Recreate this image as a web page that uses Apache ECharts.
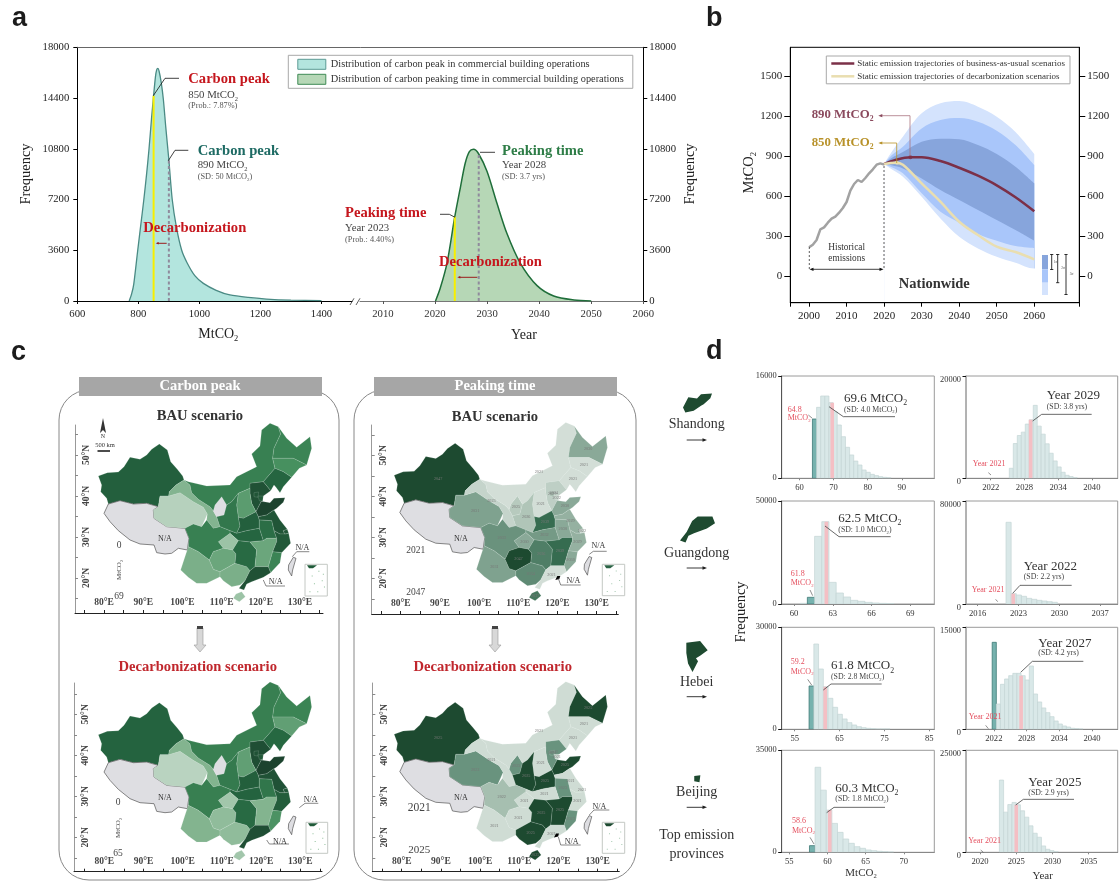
<!DOCTYPE html>
<html><head><meta charset="utf-8">
<style>html,body{margin:0;padding:0;background:#fff}#c{width:1120px;height:882px}</style>
<script src="https://cdn.jsdelivr.net/npm/echarts@6/dist/echarts.min.js"></script>
</head><body><div id="c"></div>
<script>
// ---------- DATA ----------
const curveCarbonPeak=[[770,0],[778,500],[785,1200],[798,3600],[808,5400],[818,7200],[827,9000],[835,10800],[843,12900],[850,14570],[856,15900],[860,16400],[864,16500],[868,16300],[875,15500],[882,14300],[890,12300],[900,10000],[911,7200],[925,5200],[942,3600],[960,2700],[985,1800],[1013,1250],[1055,760],[1100,430],[1160,250],[1220,140],[1300,60],[1400,20]];
const curvePeakTime=[[2020.1,0],[2021,900],[2022.3,2670],[2023.8,5980],[2024.9,8100],[2025.8,9770],[2026.6,10600],[2027.4,10760],[2028.4,10430],[2030,9180],[2031.9,6930],[2033.8,4800],[2036.4,2670],[2039.6,1090],[2042.8,355],[2046.7,70],[2050,0]];
const decarbPeak=[[850,0],[850,14570]], bauPeak=[[900,0],[900,10000]];
const decarbYear=[[2023.8,0],[2023.8,5980]], bauYear=[[2028.4,0],[2028.4,10430]];
const yTicksA=[0,3600,7200,10800,14400,18000];
const xTicksPeak=[600,800,1000,1200,1400], xTicksYear=[2010,2020,2030,2040,2050,2060];

const histYears=[2000,2001,2002,2003,2004,2005,2006,2007,2008,2009,2010,2011,2012,2013,2014,2015,2016,2017,2018,2019,2020];
const histEmis=[215,235,270,350,365,400,430,445,475,510,555,640,690,720,705,735,770,800,835,845,835];
const bandYears=[2020,2022,2025,2030,2035,2040,2045,2050,2055,2060];
const upper3=[840,930,1045,1220,1295,1312,1270,1195,1080,915];
const upper2=[840,905,970,1107,1170,1185,1157,1090,982,832];
const upper1=[840,885,930,1007,1030,1025,982,915,820,695];
const lower1=[840,830,807,732,645,570,495,420,345,265];
const lower2=[840,815,770,620,482,400,315,265,225,210];
const lower3=[840,800,745,595,432,295,207,145,100,57];
const bauLineY=[2020,2023,2027,2030,2035,2040,2045,2050,2055,2060];
const bauLineV=[840,870,890,890,862,812,752,680,590,485];
const decLineY=[2020,2023,2025,2030,2035,2040,2045,2050,2055,2060];
const decLineV=[840,850,835,695,557,407,307,220,180,125];
const yTicksB=[0,300,600,900,1200,1500], xTicksB=[2000,2010,2020,2030,2040,2050,2060];

const provinces=['Xinjiang','Tibet','Qinghai','Gansu','Ningxia','InnerMongolia','Heilongjiang','Jilin','Liaoning','Hebei','Beijing','Tianjin','Shanxi','Shaanxi','Shandong','Henan','Jiangsu','Anhui','Hubei','Chongqing','Sichuan','Yunnan','Guizhou','Guangxi','Hunan','Jiangxi','Zhejiang','Shanghai','Fujian','Guangdong','Hainan','Taiwan'];
const peakBAU=[55,NaN,6,18,NaN,40,38,33,52,62,60,58,28,44,69,55,60,48,52,12,40,20,24,20,50,24,58,60,38,62,12,NaN];
const peakDecarb=[50,NaN,5,17,NaN,38,36,25,48,60,58,55,25,40,65,52,58,42,50,10,38,17,14,14,47,17,53,56,30,60,10,NaN];
const yearBAU=[2047,NaN,2031,2023,2025,2021,2030,2021,2021,2024,2027,2022,2021,2026,2030,2039,2029,2030,2032,2030,2033,2031,2047,2034,2036,2039,2029,2022,2030,2021,2037,NaN];
const yearDecarb=[2025,NaN,2023,2021,2023,2021,2025,2021,2021,2023,2023,2021,2021,2025,2025,2025,2021,2023,2021,2021,2022,2021,2021,2025,2025,2025,2021,2021,2023,2021,2025,NaN];

// histograms: first-bin start, bin width, frequencies
const sdPeakStart=63.8, sdPeakWidth=1.21, sdPeakFreq=[9270,11100,12870,12870,11830,10420,8340,6510,4850,3650,2700,2080,1300,940,620,420,260,150,100];
const sdYearStart=2025.31, sdYearWidth=0.71, sdYearFreq=[1960,6800,8370,9025,10600,11450,14260,10200,8630,6740,4900,3400,2220,1180,590,330,130];
const gdPeakStart=60.47, gdPeakWidth=0.558, gdPeakFreq=[320,3240,32850,39960,10500,5340,3400,1780,1300,800,480,300,200];
const gdYearStart=2020.86, gdYearWidth=0.88, gdYearFreq=[63450,8030,7000,5960,4400,3630,2850,2330,1810,1300];
const hbPeakStart=58.2, hbPeakWidth=1.06, hbPeakFreq=[12740,25090,17740,12540,9110,6470,4410,3040,1960,1270,780,490,290,200,100,100,100];
const hbYearStart=2021.7, hbYearWidth=0.756, hbYearFreq=[12790,3720,6615,7400,7890,8230,8230,7890,7250,9310,5190,4020,3140,2450,1860,1225,780,490,340,150,100,50];
const bjPeakStart=57.64, bjPeakWidth=0.735, bjPeakFreq=[2280,29180,21320,14480,9920,6840,4560,3080,1940,1370,800,570,340,230,110];
const bjYearStart=2022.67, bjYearWidth=0.58, bjYearFreq=[17700,9840,11700,12220,11640,10170,8610,6480,4670,3690,1560,740,410,160];

// rough province outlines (map geometry)
const outlines={
Xinjiang:[[145,318],[172,308],[205,306],[222,290],[240,262],[270,268],[290,255],[305,238],[328,222],[352,240],[362,275],[382,298],[398,318],[402,330],[378,345],[358,365],[356,378],[330,378],[325,410],[290,400],[250,402],[210,392],[175,402],[170,385],[152,365],[155,345]],
Tibet:[[175,402],[210,392],[250,402],[290,400],[325,410],[310,420],[312,445],[350,470],[405,475],[417,505],[412,540],[385,535],[365,550],[345,552],[320,548],[312,525],[270,522],[240,510],[205,482],[180,455],[162,430]],
Qinghai:[[325,410],[330,378],[356,378],[390,368],[430,395],[460,412],[472,432],[455,470],[430,462],[405,475],[350,470],[312,445],[310,420]],
Gansu:[[358,365],[378,345],[402,330],[420,345],[425,368],[445,388],[480,410],[490,422],[500,440],[510,470],[490,475],[470,450],[472,432],[460,412],[430,395],[390,368],[356,378]],
Ningxia:[[490,422],[495,405],[515,380],[530,405],[522,435],[500,440]],
InnerMongolia:[[402,330],[415,335],[470,348],[540,345],[560,320],[590,305],[620,290],[605,252],[630,228],[635,180],[660,160],[685,170],[692,192],[672,235],[668,265],[675,295],[640,335],[600,340],[600,355],[565,370],[545,395],[530,405],[515,380],[495,405],[490,422],[480,410],[445,388],[425,368],[420,345]],
Heilongjiang:[[685,170],[710,205],[740,232],[780,200],[785,235],[770,285],[730,265],[668,265],[672,235],[692,192]],
Jilin:[[668,265],[730,265],[770,285],[748,295],[725,322],[700,305],[675,295]],
Liaoning:[[640,335],[675,295],[700,305],[725,322],[700,350],[690,368],[678,352],[672,345],[662,362]],
Hebei:[[600,340],[640,335],[662,362],[640,378],[628,385],[634,394],[618,425],[605,400],[600,370],[600,355]],
Beijing:[[612,368],[626,366],[624,382],[612,380]],
Tianjin:[[624,378],[640,378],[638,394],[628,392]],
Shanxi:[[565,370],[600,355],[600,370],[605,400],[618,425],[580,445],[565,442],[560,405]],
Shaanxi:[[545,395],[565,370],[560,405],[565,442],[570,468],[560,490],[540,482],[510,470],[500,440],[522,435],[530,405]],
Shandong:[[618,425],[634,394],[660,398],[672,385],[705,383],[700,397],[680,415],[672,420],[650,435],[625,440]],
Henan:[[565,442],[580,445],[618,425],[625,440],[628,450],[628,475],[590,482],[560,490],[570,468]],
Jiangsu:[[625,440],[650,435],[672,420],[690,450],[712,478],[700,482],[704,492],[690,492],[672,482],[665,452],[628,450]],
Anhui:[[628,450],[665,452],[672,482],[680,505],[650,505],[640,512],[628,475]],
Hubei:[[540,482],[560,490],[590,482],[628,475],[640,512],[600,516],[565,512],[540,490]],
Chongqing:[[505,515],[540,490],[565,512],[548,540],[520,535]],
Sichuan:[[405,475],[430,462],[455,470],[470,450],[490,475],[510,470],[540,482],[540,490],[505,515],[520,535],[490,545],[478,570],[445,545],[415,530],[417,505]],
Yunnan:[[415,530],[445,545],[478,570],[490,598],[510,605],[510,620],[470,640],[440,640],[415,622],[392,600],[405,560]],
Guizhou:[[490,545],[520,535],[548,540],[558,552],[555,580],[510,605],[490,598],[478,570]],
Guangxi:[[510,605],[555,580],[590,590],[600,602],[585,632],[570,645],[545,650],[520,632],[510,620]],
Hunan:[[548,540],[565,512],[600,516],[620,540],[615,590],[600,602],[590,590],[555,580],[558,552]],
Jiangxi:[[600,516],[640,512],[650,505],[680,505],[680,515],[668,545],[655,590],[615,590],[620,540]],
Zhejiang:[[672,482],[690,492],[704,492],[716,490],[722,520],[695,548],[668,545],[680,515],[680,505]],
Shanghai:[[700,482],[712,478],[716,490],[704,492]],
Fujian:[[668,545],[695,548],[690,578],[662,608],[655,590]],
Guangdong:[[600,602],[615,590],[655,590],[662,608],[640,622],[605,635],[590,642],[582,660],[567,655],[585,632]],
Hainan:[[558,672],[575,665],[586,680],[568,695],[550,685]],
Taiwan:[[730,562],[738,565],[728,600],[725,618],[715,600],[716,585]]
};
const hebeiHole=[[610,360],[628,358],[632,372],[620,384],[610,378]];
const flip=r=>r.map(p=>[p[0],-p[1]]);
function geo(names,holes){return {type:'FeatureCollection',features:names.map(n=>({type:'Feature',properties:Object.assign({name:n},n==='Tibet'?{cp:[345,-508]}:{}),geometry:{type:'Polygon',coordinates:[flip(outlines[n])].concat(holes?[flip(holes)]:[])}}))};}
['A','B','C','D'].forEach(k=>echarts.registerMap('provs'+k,geo(provinces)));
['Shandong','Guangdong','Beijing'].forEach(n=>echarts.registerMap('one'+n,geo([n])));
echarts.registerMap('oneHebei',geo(['Hebei'],hebeiHole));

// ---------- HELPERS ----------
const SERIF='"Liberation Serif","Times New Roman",serif';
const plain=v=>String(v);
const grids=[],xAxes=[],yAxes=[],series=[],gfx=[],visualMaps=[];
function txt(x,y,s,o={}){
  const size=o.size||11,color=o.color||'#222',w=o.bold?'bold':'normal';
  const style={fill:color,fontSize:size,fontWeight:w,fontFamily:o.family||SERIF,align:o.align||'left',verticalAlign:'middle',textAlign:o.align||'left',textVerticalAlign:'middle'};
  if(s.indexOf('_')>=0){
    const [a,b]=s.split('_');const sub=b[0],rest=b.slice(1);
    style.text='{m|'+a+'}{s|'+sub+'}'+(rest?'{m|'+rest+'}':'');
    const lh=Math.round(size*1.3);
    style.rich={m:{fontSize:size,fontWeight:w,fill:color,fontFamily:SERIF,lineHeight:lh},s:{fontSize:size*0.6,fontWeight:w,fill:color,fontFamily:SERIF,lineHeight:lh,verticalAlign:'bottom'}};
  } else style.text=s;
  gfx.push({type:'text',x,y,rotation:o.rot||0,silent:true,z:50,style});
}
function line(pts,color,o={}){gfx.push({type:'polyline',silent:true,z:o.z||45,shape:{points:pts},style:{stroke:color,lineWidth:o.w||0.8,fill:null,lineDash:o.dash||null}});}
function head(x,y,dx,dy,color,s){s=s||4;const nx=-dy,ny=dx;gfx.push({type:'polygon',silent:true,z:46,shape:{points:[[x,y],[x-dx*s+nx*s*0.4,y-dy*s+ny*s*0.4],[x-dx*s-nx*s*0.4,y-dy*s-ny*s*0.4]]},style:{fill:color}});}
function rect(x,y,w,h,fill,o={}){gfx.push({type:'rect',silent:true,z:o.z||1,shape:{x,y,width:w,height:h,r:o.r||0},style:{fill:fill||'none',stroke:o.stroke||null,lineWidth:o.w||1}});}
const axisBase=(color,w)=>({axisLine:{show:true,onZero:false,lineStyle:{color,width:w||1}},splitLine:{show:false}});
function addGrid(l,t,r,b,extra){grids.push(Object.assign({left:l,top:t,width:r-l,height:b-t,containLabel:false},extra||{}));return grids.length-1;}

// ---------- PANEL A ----------
const labA={fontFamily:SERIF,fontSize:10.7,color:'#222',formatter:plain};
const gA0=addGrid(77.3,47.3,643.3,301);
xAxes.push({gridIndex:gA0,type:'value',position:'top',min:0,max:1,...axisBase('#666'),axisTick:{show:false},axisLabel:{show:false}});
yAxes.push({gridIndex:gA0,type:'value',min:0,max:18000,position:'left',...axisBase('#000'),axisTick:{length:4,customValues:yTicksA,lineStyle:{color:'#000'}},axisLabel:{...labA,margin:8,customValues:yTicksA}});
yAxes.push({gridIndex:gA0,type:'value',min:0,max:18000,position:'right',...axisBase('#000'),axisTick:{length:4,customValues:yTicksA,lineStyle:{color:'#000'}},axisLabel:{...labA,margin:6,customValues:yTicksA}});
const gA1=addGrid(77.3,47.3,352,301);
xAxes.push({gridIndex:gA1,type:'value',min:600,max:1500,...axisBase('#000'),axisTick:{length:3,customValues:xTicksPeak,lineStyle:{color:'#000'}},axisLabel:{...labA,margin:8,customValues:xTicksPeak}});
yAxes.push({gridIndex:gA1,type:'value',min:0,max:18000,show:false});
const gA2=addGrid(360,47.3,643.3,301);
xAxes.push({gridIndex:gA2,type:'value',min:2005.6,max:2060,...axisBase('#777'),axisTick:{length:3,customValues:xTicksYear,lineStyle:{color:'#555'}},axisLabel:{...labA,color:'#333',margin:8,customValues:xTicksYear}});
yAxes.push({gridIndex:gA2,type:'value',min:0,max:18000,show:false});
const NAME1='Distribution of carbon peak in commercial building operations',NAME2='Distribution of carbon peaking time in commercial building operations';
series.push({name:NAME1,type:'line',xAxisIndex:1,yAxisIndex:2,data:curveCarbonPeak,smooth:0.25,symbol:'none',lineStyle:{color:'#4a8a84',width:1.3},itemStyle:{color:'#b3e5de'},areaStyle:{color:'#b3e5de',opacity:1}});
series.push({name:NAME2,type:'line',xAxisIndex:2,yAxisIndex:3,data:curvePeakTime,smooth:0.3,symbol:'none',lineStyle:{color:'#1f6e3a',width:1.5},itemStyle:{color:'#b6d7b6'},areaStyle:{color:'#b6d7b6',opacity:1}});
[[1,2,bauPeak,'#8f8a9c',2,'dashed'],[1,2,decarbPeak,'#f7ef00',2,'solid'],[2,3,bauYear,'#8f8a9c',2,'dashed'],[2,3,decarbYear,'#f7ef00',2,'solid']].forEach(a=>{
  series.push({type:'line',xAxisIndex:a[0],yAxisIndex:a[1],data:a[2],symbol:'none',lineStyle:{color:a[3],width:a[4],type:a[5]==='dashed'?[3,2.5]:'solid'}});
});
const legendA={left:288.3,top:55.3,width:348,height:32.4,orient:'vertical',itemWidth:28,itemHeight:10,itemGap:4,padding:[3.5,9],selectedMode:false,backgroundColor:'#fff',borderColor:'#a8a8a8',borderWidth:1,textStyle:{fontFamily:SERIF,fontSize:10.35,color:'#333',padding:[0,0,0,0]},
 data:[{name:NAME1,icon:'rect',itemStyle:{color:'#b3e5de',borderColor:'#5c9a94',borderWidth:1}},{name:NAME2,icon:'rect',itemStyle:{color:'#b6d7b6',borderColor:'#3f8a55',borderWidth:1}}]};

txt(26,174,'Frequency',{size:14.5,rot:Math.PI/2,align:'center'});
txt(690,174,'Frequency',{size:14.5,rot:Math.PI/2,align:'center'});
txt(218.3,334,'MtCO_2',{size:14,align:'center'});
txt(524,335,'Year',{size:14,align:'center'});
line([[350,305],[354,298.3]],'#333');line([[356,305],[360,298.3]],'#333');
const RED='#c5161d';
txt(188.3,79.3,'Carbon peak',{size:14.6,bold:true,color:RED});
txt(188.3,95,'850 MtCO_2',{size:10.8,color:'#444'});
txt(188.3,106,'(Prob.: 7.87%)',{size:8.3,color:'#555'});
line([[153.3,95.7],[165,78.3],[179,78.3]],'#111');
txt(197.7,151.3,'Carbon peak',{size:14.6,bold:true,color:'#1d6a63'});
txt(197.7,165,'890 MtCO_2',{size:10.8,color:'#444'});
txt(197.7,176.7,'(SD: 50 MtCO_2)',{size:8.3,color:'#555'});
line([[168.3,160.7],[175,150.3],[188.3,150.3]],'#111');
txt(143.3,228.3,'Decarbonization',{size:14.6,bold:true,color:RED});
line([[166.7,243.3],[157,243.3]],'#9b1c1c',{w:1});head(155.7,243.3,-1,0,'#9b1c1c',3);
txt(345,213.3,'Peaking time',{size:14.6,bold:true,color:RED});
txt(345,228.3,'Year 2023',{size:10.8,color:'#444'});
txt(345,240,'(Prob.: 4.40%)',{size:8.3,color:'#555'});
line([[440,214.3],[449.3,214.3],[455,217.3]],'#111');
txt(502,151.7,'Peaking time',{size:14.6,bold:true,color:'#2e7d47'});
txt(502,165,'Year 2028',{size:10.8,color:'#444'});
txt(502,177,'(SD: 3.7 yrs)',{size:8.3,color:'#555'});
line([[480,152.3],[495,152.3]],'#111');
txt(439,262.3,'Decarbonization',{size:14.6,bold:true,color:RED});
line([[477.3,277.3],[459,277.3]],'#9b1c1c',{w:1});head(457.3,277.3,-1,0,'#9b1c1c',3);

// ---------- PANEL B ----------
const gB=addGrid(790.3,47.3,1079.3,302.7,{show:true,borderColor:'#000',borderWidth:1,backgroundColor:'transparent'});
const xB=xAxes.length;
xAxes.push({gridIndex:gB,type:'value',min:1995,max:2072,z:6,...axisBase('#000'),axisTick:{length:4,customValues:[1995,...xTicksB,2072],lineStyle:{color:'#000'}},axisLabel:{...labA,fontSize:11,margin:8,customValues:xTicksB}});
const yB=yAxes.length;
yAxes.push({gridIndex:gB,type:'value',min:-200,max:1715,position:'left',...axisBase('#000'),axisTick:{length:6,customValues:yTicksB,lineStyle:{color:'#000'}},axisLabel:{...labA,fontSize:11,margin:8,customValues:yTicksB}});
yAxes.push({gridIndex:gB,type:'value',min:-200,max:1715,position:'right',...axisBase('#000'),axisTick:{length:6,customValues:yTicksB,lineStyle:{color:'#000'}},axisLabel:{...labA,fontSize:11,margin:8,customValues:yTicksB}});
const C1='#87a5dc',C2='#a9c6fa',C3='#d4e3fd';
const zip=(a,b)=>a.map((v,i)=>[v,b[i]]);
// nested bands: each boundary is painted from the axis floor, widest first
[[upper3,C3],[upper2,C2],[upper1,C1],[lower1,C2],[lower2,C3]].forEach(l=>{
  series.push({type:'line',xAxisIndex:xB,yAxisIndex:yB,smooth:0.35,symbol:'none',lineStyle:{width:0},z:2,
    data:zip(bandYears,l[0]),areaStyle:{color:l[1],opacity:1,origin:'start'}});
});
// the white floor under the lowest bound runs a touch past 2060 so the stacked edges leave no fringe
series.push({type:'line',xAxisIndex:xB,yAxisIndex:yB,smooth:0.35,symbol:'none',lineStyle:{width:0},z:2,
  data:zip(bandYears,lower3).concat([[2060.4,lower3[lower3.length-1]]]),areaStyle:{color:'#fff',opacity:1,origin:'start'}});
const L1='Static emission trajectories of business-as-usual scenarios',L2='Static emission trajectories of decarbonization scenarios';
series.push({type:'line',xAxisIndex:xB,yAxisIndex:yB,data:zip(histYears,histEmis),symbol:'none',lineStyle:{color:'#a2a2a2',width:2.5},z:5});
series.push({name:L1,type:'line',xAxisIndex:xB,yAxisIndex:yB,data:zip(bauLineY,bauLineV),smooth:0.35,symbol:'none',lineStyle:{color:'#7b3048',width:2.5},itemStyle:{color:'#7b3048'},z:6});
series.push({name:L2,type:'line',xAxisIndex:xB,yAxisIndex:yB,data:zip(decLineY,decLineV),smooth:0.35,symbol:'none',lineStyle:{color:'#e9deb0',width:2.5},itemStyle:{color:'#e9deb0'},z:7});
series.push({type:'scatter',xAxisIndex:xB,yAxisIndex:yB,data:[[2027,890]],symbolSize:4,itemStyle:{color:'#7b3048'},z:8});
series.push({type:'scatter',xAxisIndex:xB,yAxisIndex:yB,data:[[2023.4,850]],symbolSize:4,itemStyle:{color:'#e9deb0'},z:8});
const legendB={left:826.3,top:56,width:243,height:30.7,orient:'vertical',itemWidth:23,itemHeight:2.5,itemGap:3.8,padding:[3,5],selectedMode:false,backgroundColor:'#fff',borderColor:'#a8a8a8',borderWidth:1,textStyle:{fontFamily:SERIF,fontSize:9.0,color:'#333',padding:[0,0,0,-2]},
 data:[{name:L1,icon:'rect'},{name:L2,icon:'rect'}]};
txt(749,172.7,'MtCO_2',{size:14.5,rot:Math.PI/2,align:'center'});
txt(811.7,115,'890 MtCO_2',{size:12.8,bold:true,color:'#8b4a5e'});
txt(811.7,143,'850 MtCO_2',{size:12.8,bold:true,color:'#b8922a'});
line([[910,156],[910,115.7],[880,115.7]],'#a9747f');head(878.3,115.7,-1,0,'#8b4a5e',4);
line([[896.7,163],[896.7,143],[880,143]],'#b8922a');head(878.3,143,-1,0,'#b8922a',4);
txt(846.7,248,'Historical',{size:9.3,align:'center',color:'#333'});
txt(846.7,259,'emissions',{size:9.3,align:'center',color:'#333'});
line([[809.3,247],[809.3,269.3]],'#333',{dash:[2,2]});
line([[884,166],[884,269.3]],'#333',{dash:[2,2]});
line([[812,269.3],[881,269.3]],'#111');head(809.5,269.3,-1,0,'#111',4);head(883.5,269.3,1,0,'#111',4);
txt(934.3,284,'Nationwide',{size:14.5,bold:true,align:'center',color:'#333'});
rect(1042,255,6,14.3,C1,{z:45});rect(1042,269.3,6,13.4,C2,{z:45});rect(1042,282.7,6,12.3,C3,{z:45});
[[1051.7,254.5,269.5],[1057.7,254.5,282.7],[1066,254.5,294.5]].forEach(a=>{line([[a[0],a[1]],[a[0],a[2]]],'#000',{w:0.8});line([[a[0]-1.6,a[1]],[a[0]+1.6,a[1]]],'#000');line([[a[0]-1.6,a[2]],[a[0]+1.6,a[2]]],'#000');});
txt(1055.5,262,'1σ',{size:3.5,align:'center',color:'#555'});txt(1063,268,'2σ',{size:3.5,align:'center',color:'#555'});txt(1071.5,274,'3σ',{size:3.5,align:'center',color:'#555'});

// ---------- PANEL C ----------
rect(59,390,280,490,'none',{stroke:'#888',w:1,r:30,z:2});
rect(354,390,282,490,'none',{stroke:'#888',w:1,r:30,z:2});
rect(79,377,243,19,'#a6a6a6',{z:3});rect(374,377,243,19,'#a6a6a6',{z:3});
txt(200,386.3,'Carbon peak',{size:14.5,bold:true,color:'#fff',align:'center'});
txt(495,386.3,'Peaking time',{size:14.5,bold:true,color:'#fff',align:'center'});
txt(200,416.7,'BAU scenario',{size:14.6,bold:true,align:'center',color:'#333'});
txt(495,417,'BAU scenario',{size:14.6,bold:true,align:'center',color:'#333'});
txt(197.7,667.3,'Decarbonization scenario',{size:14.6,bold:true,align:'center',color:'#c0272d'});
txt(492.7,667.3,'Decarbonization scenario',{size:14.6,bold:true,align:'center',color:'#c0272d'});
[200,495].forEach(x=>{
  rect(x-3,626,6,3,'#444',{z:6});
  gfx.push({type:'polygon',silent:true,z:5,shape:{points:[[x-3,628],[x+3,628],[x+3,645],[x+6,645],[x,652],[x-6,645],[x-3,645]]},style:{fill:'#d8d8d8',stroke:'#999',lineWidth:0.6}});
});
const GREEN=['#cfe0d4','#86b692','#418c5a','#256640','#1c432e'];
const YEARS=['#d3ded7','#a5bdaf','#5f8a74','#2a6345','#1d4a30'];
const DEC=['#cfdcd4','#a6bfb0','#69937e','#2f6849','#1d4a30'];
function addMap(mapName,values,cx,cy,min,max,colors,showYears){
  const data=provinces.map((n,i)=>{
    const d={name:n,value:values[i]};
    if(isNaN(values[i]))d.itemStyle={areaColor:'#dedee2',borderColor:n==='Ningxia'?'#dedee2':'#555',borderWidth:0.7};
    return d;
  });
  const idx=series.length;
  series.push({type:'map',map:mapName,aspectScale:1,layoutCenter:[cx,cy],layoutSize:213.3,roam:false,silent:true,selectedMode:false,showLegendSymbol:false,z:3,
    itemStyle:{areaColor:'#dedee2',borderColor:'rgba(225,238,229,0.4)',borderWidth:0.4},
    label:{show:true,fontFamily:SERIF,fontSize:4.2,color:'#777',formatter:p=>{
      if(p.name==='Tibet')return '{n|N/A}';
      if(isNaN(p.value))return '';
      return showYears?String(p.value):'';
    },rich:{n:{fontSize:8,fontFamily:SERIF,color:'#333'}}},
    data});
  visualMaps.push({type:'continuous',show:false,seriesIndex:idx,min,max,inRange:{color:colors},outOfRange:{color:'#dedee2'}});
}
function addMapAxes(l,r,t,b,x80,y20){
  const g=addGrid(l,t,r,b);
  const xT=[75,80,85,90,95,100,105,110,115,120,125,130,135],xL=[80,90,100,110,120,130];
  const yT=[15,20,25,30,35,40,45,50,55],yL=[20,30,40,50];
  xAxes.push({gridIndex:g,type:'value',min:80+(l-x80)/3.92,max:80+(r-x80)/3.92,...axisBase('#222'),
    axisTick:{inside:true,length:3,customValues:xT,lineStyle:{color:'#222'}},
    axisLabel:{inside:true,margin:5,fontFamily:SERIF,fontSize:9.5,fontWeight:'bold',color:'#444',formatter:'{value}°E',customValues:xL}});
  yAxes.push({gridIndex:g,type:'value',min:20+(y20-b)/4.1,max:20+(y20-t)/4.1,...axisBase('#999'),
    axisTick:{inside:true,length:3,customValues:yT,lineStyle:{color:'#888'}},
    axisLabel:{inside:true,margin:7,rotate:90,fontFamily:SERIF,fontSize:9.5,fontWeight:'bold',color:'#444',formatter:'{value}°N',customValues:yL}});
}
addMapAxes(75,323,425,613,104,578);
addMapAxes(371.7,618.3,425,614,400.7,578.3);
addMapAxes(74,322,683,871.7,104.3,837.3);
addMapAxes(372.3,619.3,683,871.7,401.7,837.3);
addMap('provsA',peakBAU,205,512.5,0,69,GREEN,false);
addMap('provsB',yearBAU,500.8,511.7,2021,2047,YEARS,true);
addMap('provsC',peakDecarb,205,771.2,0,65,GREEN,false);
addMap('provsD',yearDecarb,500.8,770.8,2021,2025,DEC,true);

// north arrow and scale bar on the first map
gfx.push({type:'polygon',silent:true,z:9,shape:{points:[[103,418],[100,433],[103,430],[106,433]]},style:{fill:'#333'}});
txt(103,436,'N',{size:6,align:'center',color:'#333'});
txt(105,445.5,'500 km',{size:6.5,align:'center',color:'#333'});
line([[97.5,451],[110,451]],'#111',{w:1.5});

function naTag(tx,ty,pts){txt(tx,ty,'N/A',{size:8,align:'center',color:'#333'});line(pts,'#555',{w:0.7});}
naTag(302.3,547.7,[[292.3,556.7],[296.7,551.7],[309.3,551.7]]);
naTag(275.7,582,[[263.3,580],[266,586],[285,586]]);
naTag(598.3,545.7,[[589.3,554.3],[593.3,551.3],[606.7,551.3]]);
naTag(573.3,580.7,[[558.3,578.3],[560.7,585],[580.7,585]]);
naTag(310.7,800.3,[[299.3,807.7],[305,803.3],[318.3,803.3]]);
naTag(280,841.7,[[266.7,840],[269.3,844],[289,844]]);
naTag(599.3,806.7,[[589.3,815],[594,810],[609.3,810]]);
naTag(571.7,841.7,[[558.3,836.7],[560.7,845],[580.7,845]]);
function inset(x,y,w,h,c1,c2){
  rect(x,y,w,h,'#fff',{stroke:'#c4c8c4',w:1,z:8});
  gfx.push({type:'polygon',silent:true,z:9,shape:{points:[[x+2,y+1],[x+12,y+1],[x+8,y+4],[x+4,y+4]]},style:{fill:c1}});
  [[.6,.2],[.8,.3],[.75,.5],[.4,.6],[.2,.85],[.55,.85],[.85,.7],[.3,.35]].forEach(p=>{rect(x+w*p[0],y+h*p[1],1,1,c2,{z:9});});
}
inset(305,564.3,22.3,31.7,'#1f5a38','#8fbf9a');
inset(602.3,564.3,22.4,31.4,'#2a6345','#a5c8b0');
inset(306,822.3,21.7,31,'#1f5a38','#8fbf9a');
inset(602.3,822.3,22.4,31,'#1d4a30','#a5c8b0');
[[558.3,579],[557,836.5]].forEach(p=>{gfx.push({type:'polygon',silent:true,z:9,shape:{points:[[p[0]-1,p[1]-3],[p[0]+2,p[1]-3],[p[0]+1,p[1]],[p[0]-3,p[1]+1]]},style:{fill:'#000'}});});
function legText(x,y0,top,y1,bot,yU){txt(x,y0,top,{size:9.5,align:'center',color:'#444'});txt(x,y1,bot,{size:9.5,align:'center',color:'#444'});if(yU)txt(x,yU,'MtCO_2',{size:7,rot:Math.PI/2,align:'center',color:'#444'});}
legText(119,545,'0',596.7,'69',570);
legText(415.7,550,'2021',592.3,'2047');
legText(118,802,'0',853,'65',828);
txt(419.3,807.7,'2021',{size:11.5,align:'center',color:'#444'});
txt(419.3,850,'2025',{size:11,align:'center',color:'#444'});

// provinces column
[['Shandong',697.5,403,29,424.3,440],['Guangdong',697.5,529.5,35,553.3,568],['Hebei',697,656.5,31,682.7,696.7],['Beijing',697.3,778.7,7,792.7,807.3]].forEach(a=>{
  series.push({type:'map',map:'one'+a[0],aspectScale:1,layoutCenter:[a[1],a[2]],layoutSize:a[3],roam:false,silent:true,selectedMode:false,showLegendSymbol:false,label:{show:false},itemStyle:{areaColor:'#1e4a30',borderWidth:0},data:[]});
  txt(696.7,a[4],a[0],{size:14,align:'center',color:'#333'});
  line([[686.7,a[5]],[705,a[5]]],'#222',{w:0.9});head(707,a[5],1,0,'#222',4.5);
});
txt(696.7,835,'Top emission',{size:14,align:'center',color:'#333'});
txt(696.7,854,'provinces',{size:14,align:'center',color:'#333'});

// ---------- PANEL D ----------
function hist(l,r,t,b,xmin,xmax,ymax,xticks,start,width,freq,tealIdx,pink,rightCol){
  const g=addGrid(l,t,r,b,{show:true,borderColor:'#9a9a9a',borderWidth:1,backgroundColor:'transparent'});
  const xi=xAxes.length,yi=yAxes.length;
  xAxes.push({gridIndex:g,type:'value',min:xmin,max:xmax,...axisBase('#888'),axisTick:{length:2,customValues:xticks,lineStyle:{color:'#888'}},axisLabel:{fontFamily:SERIF,fontSize:8.6,color:'#333',margin:5,formatter:plain,customValues:xticks}});
  yAxes.push({gridIndex:g,type:'value',min:0,max:ymax,...axisBase(rightCol?'#aaa':'#555',rightCol?1.5:1),axisTick:{length:3.5,customValues:[0,ymax],lineStyle:{color:'#111'}},axisLabel:{fontFamily:SERIF,fontSize:8.4,color:'#333',margin:5,formatter:plain,verticalAlign:rightCol?'top':'middle',customValues:[0,ymax]}});
  const data=freq.map((f,i)=>[start+i*width,start+(i+1)*width,f,i===tealIdx?1:0]);
  const bin=Math.max(0,Math.min(freq.length-1,Math.floor((pink-start)/width)));
  const pw=Math.min(width*0.55,(xmax-xmin)*0.012);
  data.push([pink-pw,pink+pw,freq[bin],2]);
  series.push({type:'custom',xAxisIndex:xi,yAxisIndex:yi,silent:true,z:4,clip:true,encode:{x:[0,1],y:2},data,
    renderItem:(params,api)=>{
      const a=api.coord([api.value(0),api.value(2)]),c=api.coord([api.value(1),0]),k=api.value(3);
      const st=[{fill:'#d9e8e8',stroke:'#c4d6d6',lineWidth:0.7},{fill:'#76b2ae',stroke:'#3d7a76',lineWidth:0.8},{fill:'#f4bfc4',stroke:null}][k];
      return {type:'rect',shape:{x:a[0],y:a[1],width:c[0]-a[0],height:c[1]-a[1]},style:st};
    }});
}
const R1=[376,478.3],R2=[501,604],R3=[627.3,729.3],R4=[750.3,852.3];
const LC=[781.7,934.3],RC=[966,1117.7];
hist(LC[0],LC[1],R1[0],R1[1],54.8,99.5,16000,[60,70,80,90],sdPeakStart,sdPeakWidth,sdPeakFreq,0,69.6,false);
hist(RC[0],RC[1],R1[0],R1[1],2017.6,2044.6,20000,[2022,2028,2034,2040],sdYearStart,sdYearWidth,sdYearFreq,-1,2029.1,true);
hist(LC[0],LC[1],R2[0],R2[1],59.04,70.86,50000,[60,63,66,69],gdPeakStart,gdPeakWidth,gdPeakFreq,1,62.5,false);
hist(RC[0],RC[1],R2[0],R2[1],2014,2040,80000,[2016,2023,2030,2037],gdYearStart,gdYearWidth,gdYearFreq,-1,2022.1,true);
hist(LC[0],LC[1],R3[0],R3[1],52.1,86.1,30000,[55,65,75,85],hbPeakStart,hbPeakWidth,hbPeakFreq,0,61.8,false);
hist(RC[0],RC[1],R3[0],R3[1],2016.9,2044.7,15000,[2022,2028,2034,2040],hbYearStart,hbYearWidth,hbYearFreq,0,2027,true);
hist(LC[0],LC[1],R4[0],R4[1],54,74,35000,[55,60,65,70],bjPeakStart,bjPeakWidth,bjPeakFreq,0,60.3,false);
hist(RC[0],RC[1],R4[0],R4[1],2018.06,2039,25000,[2020,2025,2030,2035],bjYearStart,bjYearWidth,bjYearFreq,-1,2025,true);
const PX=x=>x/3+730;
function note(x,y1,y2,a,b,pts,py){txt(x,y1,a,{size:13,color:'#333'});txt(x,y2,b,{size:7.8,color:'#444'});line(pts.map(p=>[PX(p[0]),p[1]/3+py]),'#444',{w:0.8});}
function redNote(x,y1,s1,y2,s2,pts,py){txt(x,y1,s1,{size:8,color:'#e4505f'});if(s2)txt(x,y2,s2,{size:8,color:'#e4505f'});line(pts.map(p=>[PX(p[0]),p[1]/3+py]),'#444',{w:0.6});}
note(844,398.3,409.7,'69.6 MtCO_2','(SD: 4.0 MtCO_2)',[[297,125],[340,155],[495,155]],365);
note(1046.7,396,406.7,'Year 2029','(SD: 3.8 yrs)',[[908,168],[935,148],[1085,148]],365);
note(838.3,518.3,530,'62.5 MtCO_2','(SD: 1.0 MtCO_2)',[[285,483],[327,515],[482,515]],365);
note(1023.7,566.3,576.7,'Year 2022','(SD: 2.2 yrs)',[[848,685],[870,661],[1025,661]],365);
note(831,666,677.3,'61.8 MtCO_2','(SD: 2.8 MtCO_2)',[[280,210],[303,192],[455,192]],620);
note(1038.3,643.3,653.3,'Year 2027','(SD: 4.2 yrs)',[[872,157],[907,124],[1060,124]],620);
note(835.3,788.3,799.3,'60.3 MtCO_2','(SD: 1.8 MtCO_2)',[[290,578],[312,562],[465,562]],620);
note(1028.3,782.3,792.7,'Year 2025','(SD: 2.9 yrs)',[[857,555],[880,538],[1032,538]],620);
redNote(787.7,409.7,'64.8',418.3,'MtCO_2',[[235,150],[247,160]],365);
redNote(790.7,574.3,'61.8',583.3,'MtCO_2',[[240,675],[248,692]],365);
redNote(790.7,662.3,'59.2',671.7,'MtCO_2',[[233,178],[245,195]],620);
redNote(792,821.3,'58.6',830.7,'MtCO_2',[[240,652],[252,672]],620);
redNote(972.7,464,'Year 2021',0,null,[[775,323],[783,330]],365);
redNote(971.7,590.3,'Year 2021',0,null,[[797,703],[803,710]],365);
redNote(968.7,716.7,'Year 2021',0,null,[[767,316],[775,326]],620);
redNote(968.3,841.3,'Year 2021',0,null,[[752,690],[760,697]],620);
txt(861,872.7,'MtCO_2',{size:11,align:'center',color:'#333'});
txt(1042.7,875.7,'Year',{size:11,align:'center',color:'#333'});
txt(741,612,'Frequency',{size:14.5,rot:Math.PI/2,align:'center',color:'#222'});

// panel letters
[['a',12,19],['b',706,19],['c',11,353],['d',706,352]].forEach(a=>txt(a[1],a[2],a[0],{size:27,bold:true,family:'"Liberation Sans",Arial,sans-serif',color:'#1c1c1c'}));

const chart=echarts.init(document.getElementById('c'),null,{renderer:'canvas'});
chart.setOption({animation:false,backgroundColor:'#fff',textStyle:{fontFamily:SERIF},tooltip:{show:false},
  grid:grids,xAxis:xAxes,yAxis:yAxes,series,visualMap:visualMaps,legend:[legendA,legendB],graphic:{elements:gfx}});
</script></body></html>
